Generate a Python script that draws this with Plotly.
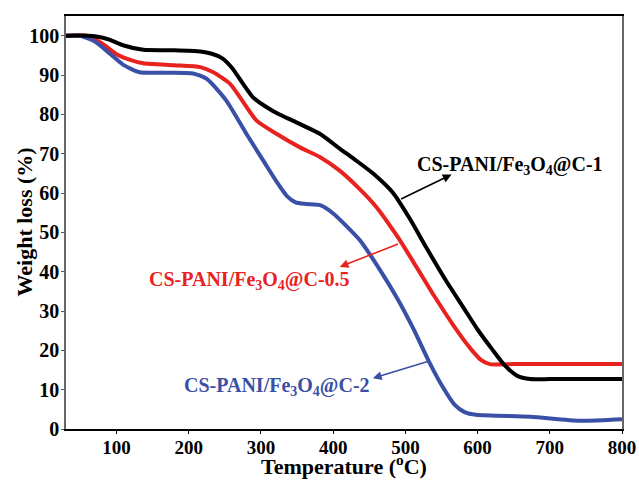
import plotly.graph_objects as go

# Thermogravimetric curves (temperature in °C, remaining weight in %)
temp_c1 = [30, 60, 72, 90, 110, 137, 180, 216, 232, 246, 260, 275, 289, 308, 325, 344, 382, 409, 430, 455,
           483, 506, 530, 557, 580, 600, 620, 637, 655, 673, 700, 750, 800]
weight_c1 = [100, 100, 99.8, 99, 97.5, 96.4, 96.3, 96, 95.4, 94.3, 91.8, 87.8, 84.3, 81.8, 80, 78.4, 75, 71.3, 68.5, 65,
             60, 53.5, 45.8, 37.5, 31, 25.3, 20.3, 16.3, 13.5, 12.7, 12.7, 12.7, 12.7]

temp_c05 = [30, 59, 80, 100, 120, 137, 180, 216, 234, 257, 271, 294, 322, 354, 382, 409, 434, 460,
            488, 511, 540, 566, 590, 605, 617, 650, 800]
weight_c05 = [100, 100, 98, 95.3, 93.8, 93, 92.5, 92, 90.7, 87.8, 84.3, 78.4, 75, 71.6, 69.1, 65.7, 61.5, 56.4,
              49.2, 42.5, 33.8, 26.5, 20.5, 17.5, 16.5, 16.5, 16.5]

temp_c2 = [30, 49, 70, 91, 110, 132, 170, 206, 225, 252, 280, 303, 323, 336, 348, 362, 382, 400, 437, 465, 490,
           511, 532, 552, 568, 582, 598, 673, 742, 800]
weight_c2 = [100, 100, 98.5, 95.4, 92.5, 90.7, 90.6, 90.4, 89, 83.5, 75, 68.3, 62.5, 59.2, 57.6, 57.2, 56.9, 54.8, 48,
             40.4, 32.8, 25.5, 17.4, 10.6, 6.2, 4.3, 3.6, 3.1, 2.1, 2.5]

series_names = ["CS-PANI/Fe<sub>3</sub>O<sub>4</sub>@C-1",
                "CS-PANI/Fe<sub>3</sub>O<sub>4</sub>@C-0.5",
                "CS-PANI/Fe<sub>3</sub>O<sub>4</sub>@C-2"]
series_colors = ["#000000", "#e8231f", "#3a4fa6"]

x_ticks = [100, 200, 300, 400, 500, 600, 700, 800]
y_ticks = [0, 10, 20, 30, 40, 50, 60, 70, 80, 90, 100]

FONT = "Liberation Serif, Times New Roman, serif"

fig = go.Figure()
for xs, ys, name, col in [(temp_c05, weight_c05, series_names[1], series_colors[1]),
                          (temp_c2, weight_c2, series_names[2], series_colors[2]),
                          (temp_c1, weight_c1, series_names[0], series_colors[0])]:
    fig.add_trace(go.Scatter(x=xs, y=ys, mode="lines", name=name,
                             line=dict(color=col, width=4, shape="spline", smoothing=0.6),
                             showlegend=False))

# arrows: (head_x, head_y, tail_x, tail_y)
arrows = [
    (564, 64.7, 492, 58.3, series_colors[0]),
    (409, 41.2, 492, 47.2, series_colors[1]),
    (455, 12.9, 533, 17.3, series_colors[2]),
]
for hx, hy, tx, ty, col in arrows:
    fig.add_annotation(x=hx, y=hy, ax=tx, ay=ty, xref="x", yref="y", axref="x", ayref="y",
                       text="", showarrow=True, arrowhead=2, arrowsize=1.1, arrowwidth=1.6,
                       arrowcolor=col)

# curve labels
labels = [
    (513, 67.0, series_names[0], series_colors[0]),
    (142, 37.8, series_names[1], series_colors[1]),
    (191, 10.7, series_names[2], series_colors[2]),
]
for lx, ly, txt, col in labels:
    fig.add_annotation(x=lx, y=ly, xref="x", yref="y", text=txt, showarrow=False,
                       xanchor="left", yanchor="middle",
                       font=dict(family=FONT, size=20, color=col, weight="bold"))

# axis titles
fig.add_annotation(x=0.5, y=0, xref="paper", yref="paper", yshift=-36,
                   text="Temperature (<sup>o</sup>C)", showarrow=False,
                   xanchor="center", yanchor="middle",
                   font=dict(family=FONT, size=22, color="black", weight="bold"))
fig.add_annotation(x=0, y=0.5, xref="paper", yref="paper", xshift=-42,
                   text="Weight loss (%)", showarrow=False, textangle=-90,
                   xanchor="center", yanchor="middle",
                   font=dict(family=FONT, size=22, color="black", weight="bold"))

fig.update_layout(
    width=639, height=480,
    margin=dict(l=66, r=17, t=16, b=51),
    paper_bgcolor="white", plot_bgcolor="white",
    font=dict(family=FONT, color="black"),
)
fig.update_xaxes(
    range=[30, 800], tickvals=x_ticks, ticks="outside", ticklen=3, tickwidth=1,
    tickcolor="black", showline=True, linecolor="black", linewidth=1.5, mirror=True,
    showgrid=False, zeroline=False, automargin=False, ticklabelstandoff=-3,
    tickfont=dict(family=FONT, size=19, color="black", weight="bold"),
)
fig.update_yaxes(
    range=[0, 105], tickvals=y_ticks, ticks="outside", ticklen=3, tickwidth=1,
    tickcolor="#555555", showline=True, linecolor="#666666", linewidth=1.5, mirror=True,
    showgrid=False, zeroline=False, automargin=False, ticklabelstandoff=-2,
    tickfont=dict(family=FONT, size=20, color="black", weight="bold"),
)

fig.write_html("out.html")
